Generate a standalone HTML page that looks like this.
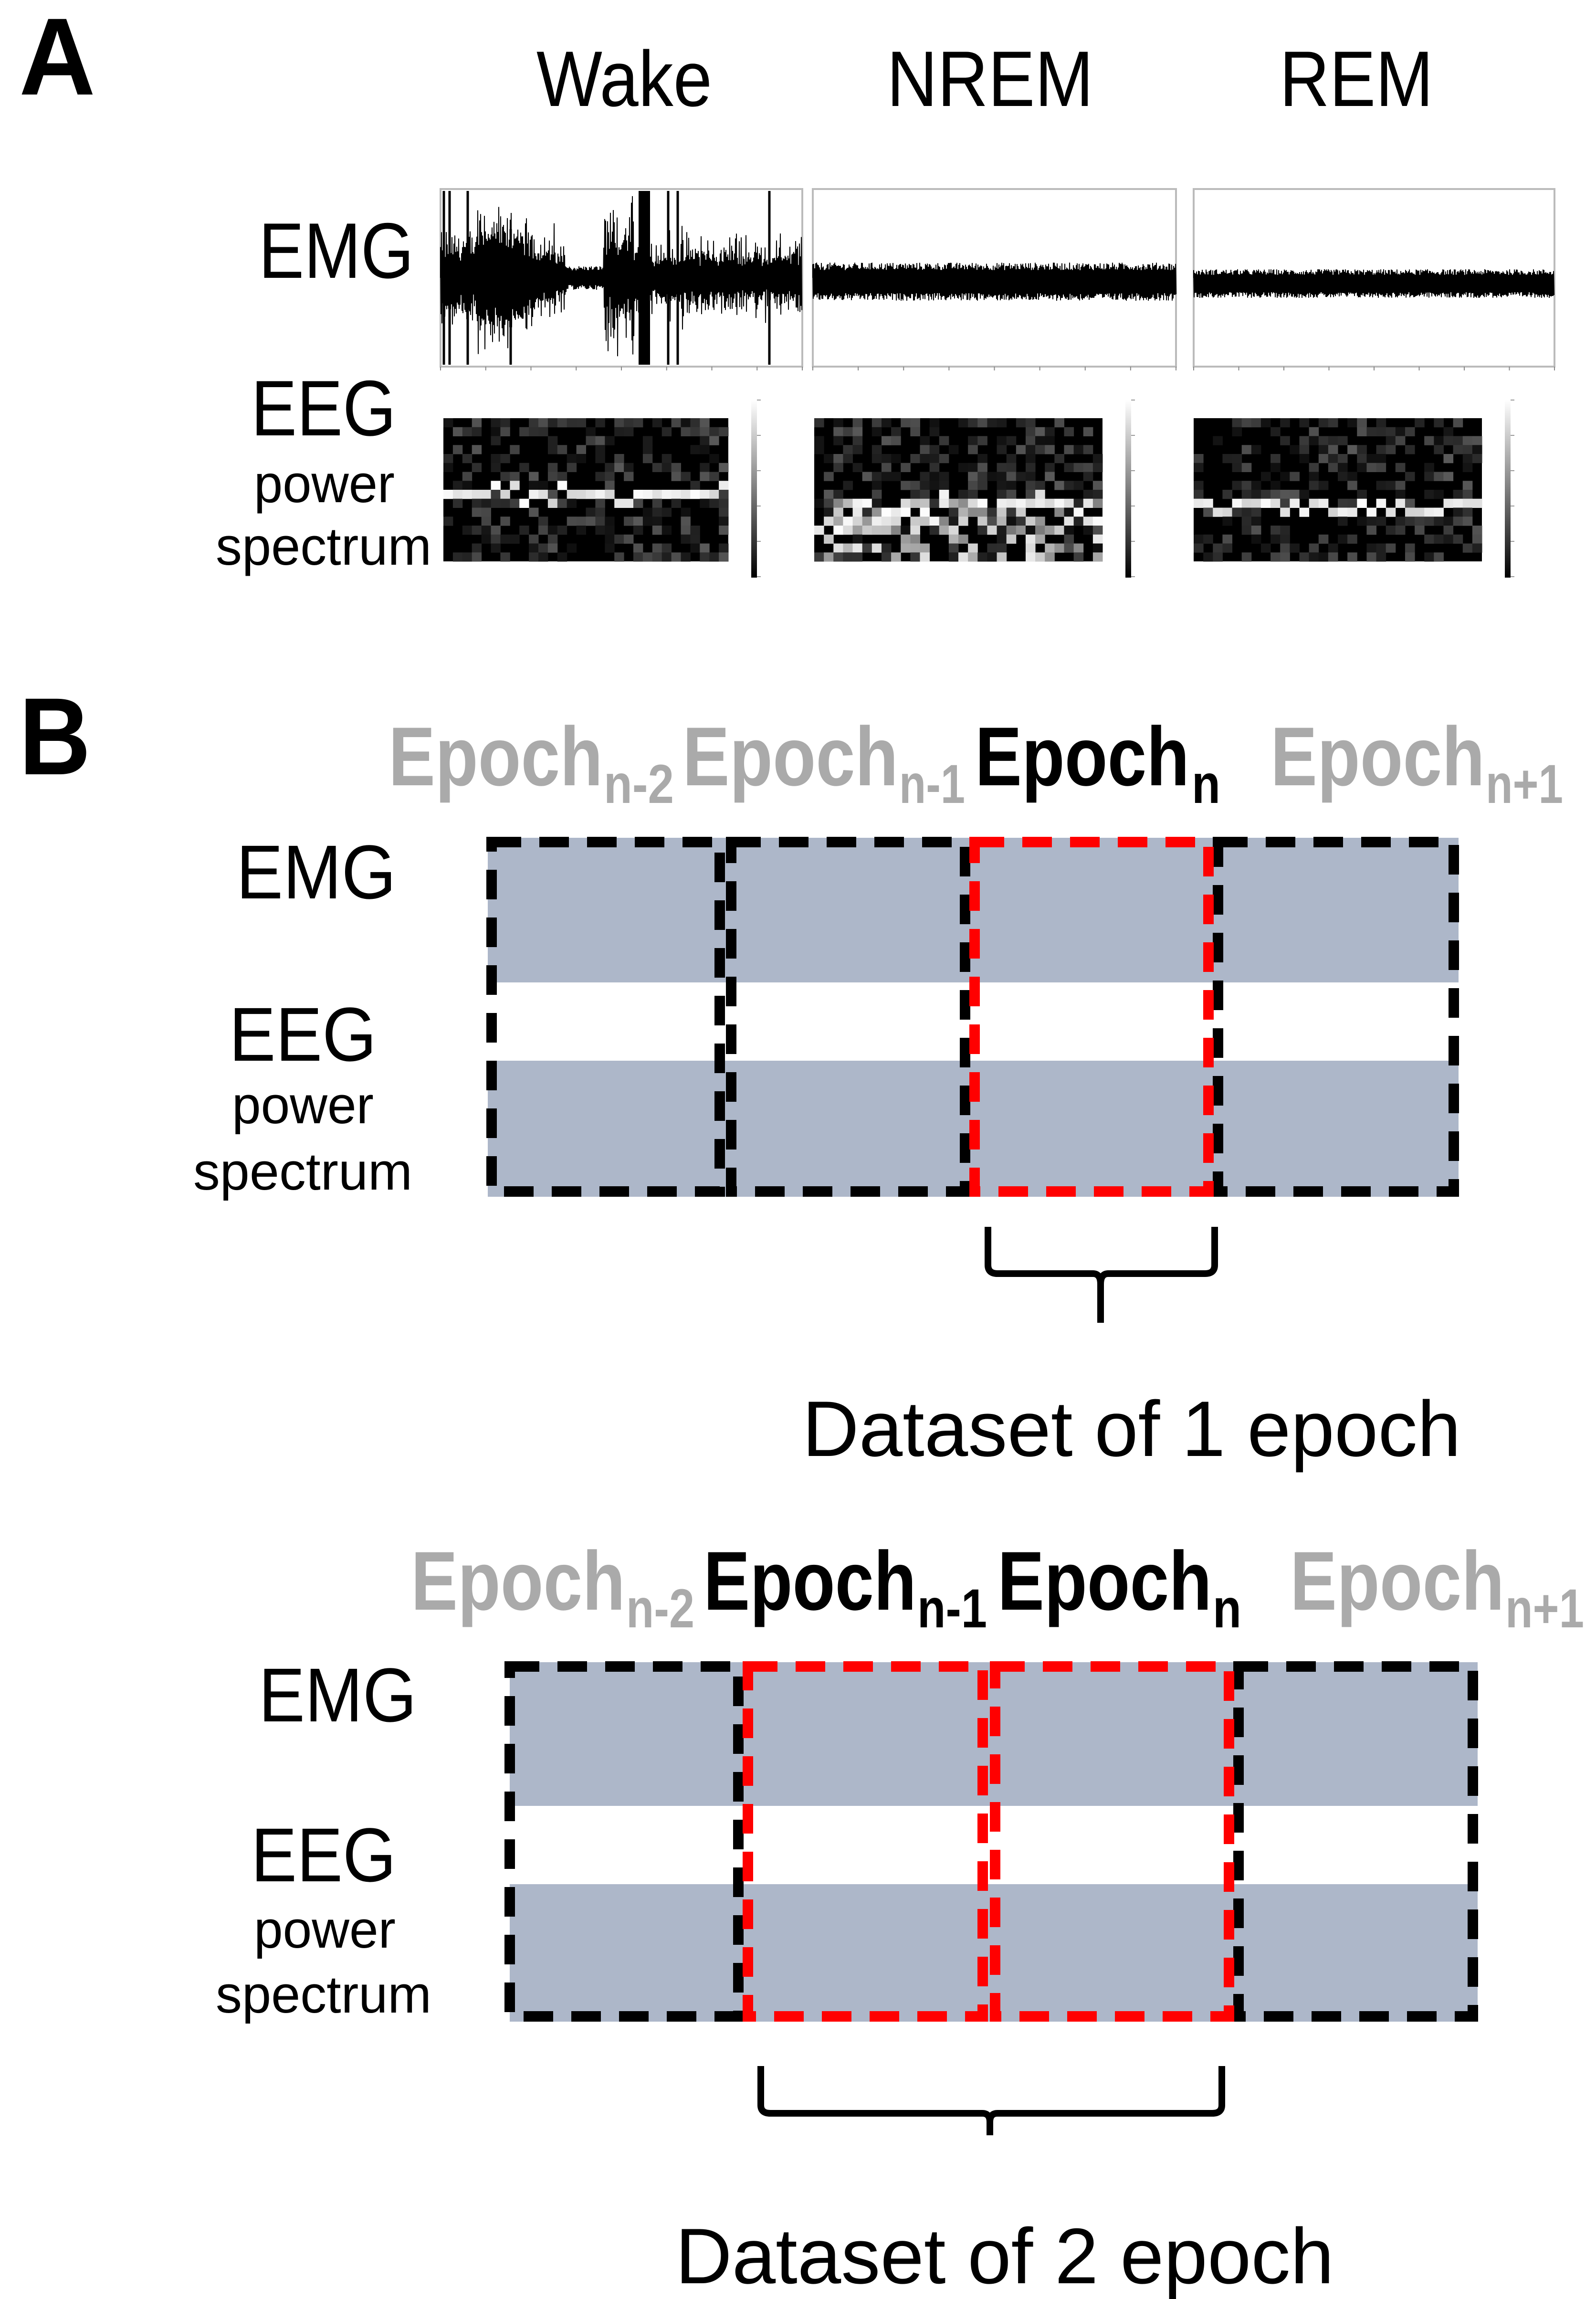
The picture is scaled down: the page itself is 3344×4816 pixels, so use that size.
<!DOCTYPE html>
<html><head><meta charset="utf-8"><style>
html,body{margin:0;padding:0;background:#fff;}
svg{display:block;}
text{font-family:"Liberation Sans",Arial,sans-serif;}
</style></head><body>
<svg id="s" width="3344" height="4816" viewBox="0 0 3344 4816" xmlns="http://www.w3.org/2000/svg">
<rect width="3344" height="4816" fill="#fff"/>
<!-- Panel A -->
<text x="40" y="198" font-size="230" font-weight="bold" textLength="160" lengthAdjust="spacingAndGlyphs">A</text>
<text x="1124" y="222" font-size="165" textLength="368" lengthAdjust="spacingAndGlyphs">Wake</text>
<text x="1858" y="222" font-size="165" textLength="433" lengthAdjust="spacingAndGlyphs">NREM</text>
<text x="2681" y="222" font-size="165" textLength="322" lengthAdjust="spacingAndGlyphs">REM</text>
<text x="542" y="582" font-size="165" textLength="325" lengthAdjust="spacingAndGlyphs">EMG</text>
<text x="526" y="912" font-size="165" textLength="304" lengthAdjust="spacingAndGlyphs">EEG</text>
<text x="532" y="1052" font-size="112" textLength="295" lengthAdjust="spacingAndGlyphs">power</text>
<text x="452" y="1183" font-size="112" textLength="452" lengthAdjust="spacingAndGlyphs">spectrum</text>
<g id="emg"></g>
<g id="eeg"></g>

<!-- Panel B -->
<text x="40" y="1622" font-size="230" font-weight="bold" textLength="150" lengthAdjust="spacingAndGlyphs">B</text>
<g font-size="175" font-weight="bold">
<text x="814" y="1645" fill="#aaa" textLength="449" lengthAdjust="spacingAndGlyphs">Epoch</text>
<text x="1265" y="1682" fill="#aaa" font-size="115" textLength="147" lengthAdjust="spacingAndGlyphs">n-2</text>
<text x="1430" y="1645" fill="#aaa" textLength="452" lengthAdjust="spacingAndGlyphs">Epoch</text>
<text x="1884" y="1682" fill="#aaa" font-size="115" textLength="138" lengthAdjust="spacingAndGlyphs">n-1</text>
<text x="2043" y="1645" fill="#000" textLength="449" lengthAdjust="spacingAndGlyphs">Epoch</text>
<text x="2497" y="1682" fill="#000" font-size="115" textLength="60" lengthAdjust="spacingAndGlyphs">n</text>
<text x="2662" y="1645" fill="#aaa" textLength="449" lengthAdjust="spacingAndGlyphs">Epoch</text>
<text x="3113" y="1682" fill="#aaa" font-size="115" textLength="162" lengthAdjust="spacingAndGlyphs">n+1</text>
</g>
<text x="495" y="1882" font-size="160" textLength="335" lengthAdjust="spacingAndGlyphs">EMG</text>
<text x="480" y="2222" font-size="160" textLength="309" lengthAdjust="spacingAndGlyphs">EEG</text>
<text x="486" y="2353" font-size="110" textLength="297" lengthAdjust="spacingAndGlyphs">power</text>
<text x="405" y="2492" font-size="110" textLength="459" lengthAdjust="spacingAndGlyphs">spectrum</text>
<rect x="1022" y="1755" width="2034" height="303" fill="#adb7c9"/>
<rect x="1022" y="2222" width="2034" height="285" fill="#adb7c9"/>
<g fill="none" stroke-width="22" stroke-dasharray="62,38">
<rect x="1030" y="1764" width="478" height="732" stroke="#000"/>
<rect x="1532" y="1764" width="490" height="732" stroke="#000"/>
<rect x="2552" y="1764" width="494" height="732" stroke="#000"/>
<rect x="2042" y="1764" width="490" height="732" stroke="#f00"/>
</g>
<path d="M2070 2570 V2650 Q2070 2668 2090 2668 H2290 Q2306 2668 2306 2690 V2771 M2306 2690 Q2306 2668 2322 2668 H2525 Q2545 2668 2545 2650 V2570" fill="none" stroke="#000" stroke-width="14"/>
<text x="1681" y="3050" font-size="165" textLength="1380" lengthAdjust="spacingAndGlyphs">Dataset of 1 epoch</text>

<g font-size="175" font-weight="bold">
<text x="861" y="3372" fill="#aaa" textLength="449" lengthAdjust="spacingAndGlyphs">Epoch</text>
<text x="1312" y="3409" fill="#aaa" font-size="115" textLength="143" lengthAdjust="spacingAndGlyphs">n-2</text>
<text x="1474" y="3372" fill="#000" textLength="446" lengthAdjust="spacingAndGlyphs">Epoch</text>
<text x="1922" y="3409" fill="#000" font-size="115" textLength="146" lengthAdjust="spacingAndGlyphs">n-1</text>
<text x="2090" y="3372" fill="#000" textLength="449" lengthAdjust="spacingAndGlyphs">Epoch</text>
<text x="2541" y="3409" fill="#000" font-size="115" textLength="60" lengthAdjust="spacingAndGlyphs">n</text>
<text x="2703" y="3372" fill="#aaa" textLength="449" lengthAdjust="spacingAndGlyphs">Epoch</text>
<text x="3154" y="3409" fill="#aaa" font-size="115" textLength="165" lengthAdjust="spacingAndGlyphs">n+1</text>
</g>
<text x="542" y="3606" font-size="160" textLength="331" lengthAdjust="spacingAndGlyphs">EMG</text>
<text x="526" y="3941" font-size="160" textLength="304" lengthAdjust="spacingAndGlyphs">EEG</text>
<text x="532" y="4080" font-size="110" textLength="297" lengthAdjust="spacingAndGlyphs">power</text>
<text x="452" y="4216" font-size="110" textLength="452" lengthAdjust="spacingAndGlyphs">spectrum</text>
<rect x="1068" y="3482" width="2028" height="301" fill="#adb7c9"/>
<rect x="1068" y="3947" width="2028" height="288" fill="#adb7c9"/>
<g fill="none" stroke-width="22" stroke-dasharray="62,38">
<rect x="1068" y="3491" width="479" height="733" stroke="#000"/>
<rect x="2595" y="3491" width="491" height="733" stroke="#000"/>
<rect x="1567" y="3491" width="492" height="733" stroke="#f00"/>
<rect x="2085" y="3491" width="490" height="733" stroke="#f00"/>
</g>
<path d="M1594 4328 V4410 Q1594 4427 1614 4427 H2058 Q2074 4427 2074 4445 V4473 M2074 4445 Q2074 4427 2090 4427 H2540 Q2560 4427 2560 4410 V4328" fill="none" stroke="#000" stroke-width="14"/>
<text x="1415" y="4783" font-size="165" textLength="1380" lengthAdjust="spacingAndGlyphs">Dataset of 2 epoch</text>
</svg>
<script>
(function(){
var NS="http://www.w3.org/2000/svg";
var seed=12345;function r(){seed=(seed*1103515245+12345)%2147483648;return seed/2147483648;}
function el(t,a,p){var e=document.createElementNS(NS,t);for(var k in a)e.setAttribute(k,a[k]);p.appendChild(e);return e;}
var emg=document.getElementById('emg'),eeg=document.getElementById('eeg');
var plots=[[923,1681],[1703,2464],[2501,3257]];
var y0=396,y1=768,mid=582;
plots.forEach(function(p,i){
  el('rect',{x:p[0],y:y0,width:p[1]-p[0],height:y1-y0,fill:'#fff',stroke:'#bbb','stroke-width':4},emg);
  var d='M'+p[0]+' '+mid;
  for(var x=p[0];x<p[1];x+=2){
    var amp;
    if(i==0){var f=(x-p[0])/(p[1]-p[0]);
      if(f<0.1)amp=50+60*r();else if(f<0.35)amp=60+90*r()*r()+40*Math.sin(f*12);else if(f<0.45)amp=25;else if(f<0.55)amp=60+160*r()*r();else amp=40+90*r()*r();
      if(amp>180)amp=180;}
    else if(i==1)amp=40;else amp=30;
    var c=(i==2)?mid+12:(i==1?mid+8:mid);
    d+=' L'+x+' '+(c-amp*(0.6+0.4*r()))+' L'+(x+1)+' '+(c+amp*(0.6+0.4*r()));
  }
  el('path',{d:d,fill:'none',stroke:'#000','stroke-width':2},emg);
  if(i==0){[930,942,980,1400,1420,1612].forEach(function(x){el('line',{x1:x,y1:400,x2:x,y2:764,stroke:'#000','stroke-width':5},emg);});
    el('line',{x1:1070,y1:480,x2:1070,y2:764,stroke:'#000','stroke-width':5},emg);
    el('rect',{x:1338,y:400,width:24,height:364,fill:'#000'},emg);}
  for(var t=0;t<=8;t++){var tx=p[0]+t*(p[1]-p[0])/8;el('line',{x1:tx,y1:y1,x2:tx,y2:y1+8,stroke:'#888','stroke-width':2},emg);}
});
var specs=[[929,1526,0.5],[1706,2310,0.65],[2501,3105,0.6]];
specs.forEach(function(s,i){
  var sy=876,sh=300,w=s[1]-s[0];
  el('rect',{x:s[0],y:sy,width:w,height:sh,fill:'#000'},eeg);
  var nx=30,ny=16,cw=w/nx,ch=sh/ny;
  for(var a=0;a<nx;a++){var band=Math.round(s[2]*ny+(r()-0.5)*(i==1?4:1.5));
    for(var b=0;b<ny;b++){var v=r();var g=v*v*v*90;
      if(b==band)g=210+45*r();else if(i==1&&b>ny*0.5&&r()<0.35)g=120+120*r();
      if(g>15)el('rect',{x:s[0]+a*cw,y:sy+b*ch,width:cw+0.5,height:ch+0.5,fill:'rgb('+(g|0)+','+(g|0)+','+(g|0)+')'},eeg);}}
  var cx=s[1]+48;
  var gr=el('linearGradient',{id:'g'+i,x1:0,y1:0,x2:0,y2:1},eeg);
  el('stop',{offset:0,'stop-color':'#fff'},gr);el('stop',{offset:1,'stop-color':'#000'},gr);
  el('rect',{x:cx,y:838,width:12,height:372,fill:'url(#g'+i+')'},eeg);
  for(var t=0;t<=5;t++)el('line',{x1:cx+12,y1:838+t*74,x2:cx+20,y2:838+t*74,stroke:'#999','stroke-width':2},eeg);
});
})();
</script>
</body></html>
